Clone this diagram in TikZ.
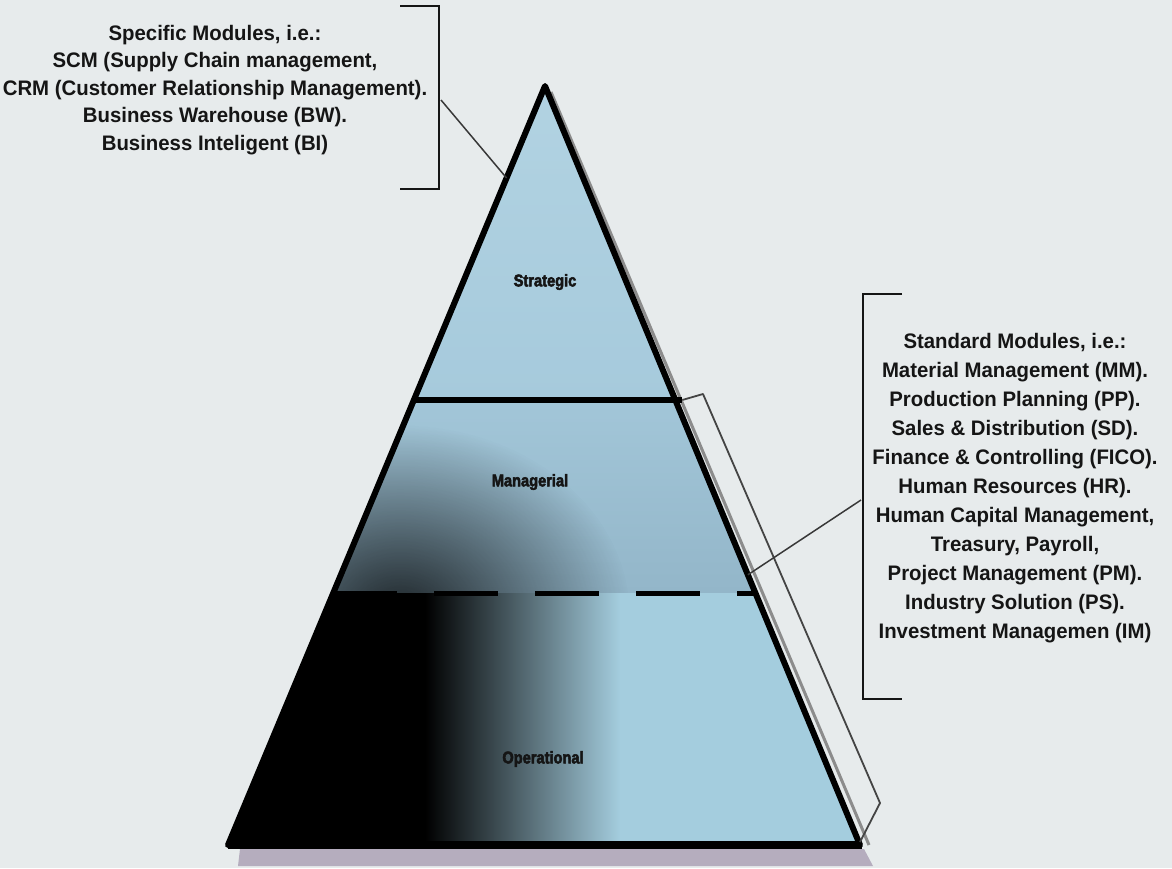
\documentclass[tikz,border=0pt]{standalone}
\usepackage{fontspec}
\setmainfont{Liberation Sans}
\newfontfamily\lblfont[FakeStretch=0.97]{Liberation Sans}
\newfontfamily\heavyfont[FakeStretch=0.86, BoldFeatures={FakeBold=3}]{Liberation Sans}
\usetikzlibrary{calc,fadings}
\definecolor{bg}{HTML}{E7EBEC}
\definecolor{pyrtop}{HTML}{B2D3E2}
\definecolor{pyr}{HTML}{A6CADC}
\definecolor{mgr}{HTML}{93B6C9}
\definecolor{opr}{HTML}{A4CDDE}
\definecolor{strip}{HTML}{B5ADBE}
\definecolor{edgeshadow}{HTML}{8C8C8C}
\definecolor{ink}{HTML}{151515}
\tikzfading[name=blobfade, inner color=transparent!0, outer color=transparent!100]
\tikzset{
  sidetext/.style={align=center, text=ink, inner sep=0pt},
  lefttext/.style={sidetext, font=\lblfont\bfseries\fontsize{21}{27.5}\selectfont},
  righttext/.style={sidetext, font=\lblfont\bfseries\fontsize{21}{29}\selectfont},
  levellabel/.style={text=ink, inner sep=0pt, font=\heavyfont\bfseries\fontsize{17}{20}\selectfont},
  bracketline/.style={draw=ink, line width=2.6pt},
  connector/.style={draw=ink!85, line width=1.5pt},
  pyredge/.style={draw=black, line width=6pt, line join=round},
  stripline/.style={draw=ink!80, line width=1.8pt, line join=round}
}
\begin{document}
\begin{tikzpicture}[x=1pt,y=-1pt]
\useasboundingbox (0,0) rectangle (1172,868);
\fill[bg] (0,0) rectangle (1172,868);

% geometry
\coordinate (apex) at (545,86);
\coordinate (bl) at (228,845);
\coordinate (br) at (860,845);
\coordinate (mL) at ($(apex)!0.4137!(bl)$);
\coordinate (mR) at ($(apex)!0.4137!(br)$);
\coordinate (dL) at ($(apex)!0.668!(bl)$);
\coordinate (dR) at ($(apex)!0.668!(br)$);
\coordinate (lpt) at ($(apex)!0.1212!(bl)$);
\coordinate (rpt) at ($(apex)!0.644!(br)$);
\coordinate (mRx) at ($(mR)+(7,0)$);

% shadows
\fill[strip] (240,849) -- (864,849) -- (873,866) -- (238,866) -- cycle;
\draw[edgeshadow, line width=3pt] ($(apex)+(6,6)$) -- ($(br)+(9,0)$);

% pyramid fill
\begin{scope}
  \clip (apex) -- (bl) -- (br) -- cycle;
  \shade[top color=pyrtop, bottom color=pyr] (200,80) rectangle (900,400);
  \shade[top color=pyr!80!mgr, bottom color=mgr] (200,400) rectangle (900,593);
  \begin{scope}
    \clip (200,400) rectangle (900,593);
    \fill[black, path fading=blobfade, fill opacity=0.8] (400,615) ellipse [x radius=230pt, y radius=190pt];
  \end{scope}
  \fill[opr] (200,593) rectangle (900,850);
  \fill[black] (200,593) rectangle (428,850);
  \shade[left color=black, right color=opr] (425,593) rectangle (620,850);
\end{scope}

% level lines
\draw[line width=6pt] (mL) -- (mRx);
\draw[line width=5pt, dash pattern=on 64pt off 37pt] (dL) -- (dR);

% outline
\draw[pyredge] (apex) -- (bl) -- (br) -- cycle;
\draw[black, line width=8pt] (bl) -- ($(br)+(2,0)$);

% thin strip along right edge
\draw[stripline] (mRx) -- (703,394) -- (880,803) -- (860,842);

% labels in pyramid
\node[levellabel] (strat) at (545,282) {Strategic};
\node[levellabel] (manag) at (530,482) {Managerial};
\node[levellabel] (oper) at (543,759) {Operational};

% left bracket and text
\draw[bracketline] (400,6) -- (439,6) -- (439,189) -- (400,189);
\coordinate (lbr) at (441,100);
\draw[connector] (lbr) -- (lpt);
\node[lefttext] (spec) at (215,90) {Specific Modules, i.e.:\\
SCM (Supply Chain management,\\
CRM (Customer Relationship Management).\\
Business Warehouse (BW).\\
Business Inteligent (BI)};

% right bracket and text
\draw[bracketline] (902,294) -- (863,294) -- (863,699) -- (902,699);
\coordinate (rbr) at (861,500);
\draw[connector] (rbr) -- (rpt);
\node[righttext] (std) at (1015,488) {Standard Modules, i.e.:\\
Material Management (MM).\\
Production Planning (PP).\\
Sales \& Distribution (SD).\\
Finance \& Controlling (FICO).\\
Human Resources (HR).\\
Human Capital Management,\\
Treasury, Payroll,\\
Project Management (PM).\\
Industry Solution (PS).\\
Investment Managemen (IM)};
\end{tikzpicture}
\end{document}
